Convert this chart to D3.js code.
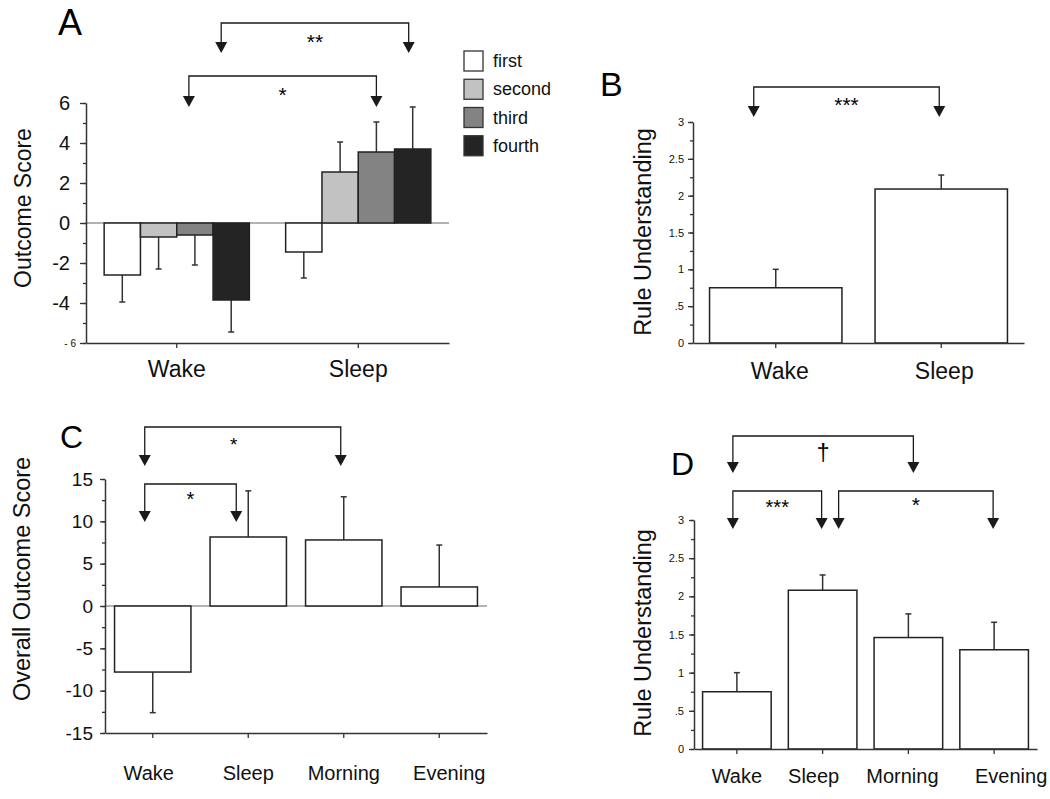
<!DOCTYPE html>
<html>
<head>
<meta charset="utf-8">
<script src="https://cdn.jsdelivr.net/npm/d3@7"></script>
<style>
  body { margin: 0; background: #fff; }
  svg { display: block; }
</style>
</head>
<body>
<svg id="chart" width="1050" height="799"></svg>
<script>
// ---- data ----
// panel A: outcome score per session, grouped by condition
var groupsA = ["Wake", "Sleep"];
var seriesA = ["first", "second", "third", "fourth"];
var meansA = [[-2.6, -0.7, -0.6, -3.85], [-1.45, 2.55, 3.55, 3.7]];
var errA = [[1.35, 1.6, 1.5, 1.6], [1.3, 1.5, 1.5, 2.1]];
var ticksA = [-6, -4, -2, 0, 2, 4, 6];

// panel B: rule understanding
var condB = ["Wake", "Sleep"];
var meansB = [0.75, 2.09];
var errB = [0.25, 0.19];
var ticksB = [0, 0.5, 1, 1.5, 2, 2.5, 3];

// panel C: overall outcome score
var condC = ["Wake", "Sleep", "Morning", "Evening"];
var meansC = [-7.8, 8.15, 7.8, 2.25];
var errC = [4.8, 5.45, 5.1, 4.95];
var ticksC = [-15, -10, -5, 0, 5, 10, 15];

// panel D: rule understanding
var condD = ["Wake", "Sleep", "Morning", "Evening"];
var meansD = [0.75, 2.08, 1.46, 1.3];
var errD = [0.25, 0.2, 0.31, 0.36];
var ticksD = [0, 0.5, 1, 1.5, 2, 2.5, 3];

var FONT = '"Liberation Sans", Arial, Helvetica, sans-serif';
var INK = "#1a1a1a";
var svg = d3.select("#chart");

var fillA = d3.scaleOrdinal().domain(seriesA).range(["#ffffff", "#c2c2c2", "#838383", "#242424"]);

// ---- helpers ----
function styleAxis(g, fontSize) {
  g.attr("font-family", FONT).attr("font-size", fontSize);
  g.selectAll("path.domain").attr("stroke", "#333").attr("stroke-width", 1.5);
  g.selectAll(".tick line").attr("stroke", "#333").attr("stroke-width", 1.3);
  g.selectAll(".tick text").attr("fill", "#111");
}

function leftAxis(y, x0, major, step, fmt, o) {
  var minor = d3.range(major[0], major[major.length - 1] + step / 2, step);
  var gm = svg.append("g").attr("transform", "translate(" + x0 + ",0)")
    .call(d3.axisLeft(y).tickValues(minor).tickSize(o.minor).tickFormat(""));
  gm.select(".domain").remove();
  styleAxis(gm, o.font);
  var g = svg.append("g").attr("transform", "translate(" + x0 + ",0)")
    .call(d3.axisLeft(y).tickValues(major).tickSize(o.major).tickSizeOuter(0)
      .tickPadding(o.pad).tickFormat(fmt));
  styleAxis(g, o.font);
  return g;
}

function bottomAxis(x, y0, pad, fontSize, shifts) {
  var g = svg.append("g").attr("transform", "translate(0," + y0 + ")")
    .call(d3.axisBottom(x).tickSize(5).tickSizeOuter(0).tickPadding(pad));
  styleAxis(g, fontSize);
  if (shifts) g.selectAll(".tick text").attr("dx", function(d, i) { return shifts[i]; });
  return g;
}

function zeroLine(x, y) {
  svg.append("line")
    .attr("x1", x.range()[0]).attr("x2", x.range()[1])
    .attr("y1", y(0)).attr("y2", y(0))
    .attr("stroke", "#9a9a9a").attr("stroke-width", 1.5);
}

// rows: {x, w, v, e, fill}
function bars(rows, y) {
  var g = svg.append("g");
  g.selectAll("line.err").data(rows).enter().append("line")
    .attr("x1", function(d) { return d.x + d.w / 2; })
    .attr("x2", function(d) { return d.x + d.w / 2; })
    .attr("y1", function(d) { return y(d.v); })
    .attr("y2", function(d) { return y(d.v + (d.v < 0 ? -d.e : d.e)); })
    .attr("stroke", "#333").attr("stroke-width", 1.5);
  g.selectAll("line.cap").data(rows).enter().append("line")
    .attr("x1", function(d) { return d.x + d.w / 2 - 3; })
    .attr("x2", function(d) { return d.x + d.w / 2 + 3; })
    .attr("y1", function(d) { return y(d.v + (d.v < 0 ? -d.e : d.e)); })
    .attr("y2", function(d) { return y(d.v + (d.v < 0 ? -d.e : d.e)); })
    .attr("stroke", "#333").attr("stroke-width", 1.5);
  g.selectAll("rect").data(rows).enter().append("rect")
    .attr("x", function(d) { return d.x; })
    .attr("width", function(d) { return d.w; })
    .attr("y", function(d) { return Math.min(y(d.v), y(0)); })
    .attr("height", function(d) { return Math.abs(y(d.v) - y(0)); })
    .attr("fill", function(d) { return d.fill; })
    .attr("stroke", "#222").attr("stroke-width", 1.5);
}

function arrow(g, x, tip) {
  g.append("path")
    .attr("d", "M" + (x - 6) + "," + (tip - 11) + "L" + (x + 6) + "," + (tip - 11) + "L" + x + "," + tip + "Z")
    .attr("fill", INK);
}

function bracket(x1, x2, yLine, tip, label, labelY, fontSize, labelDx) {
  var g = svg.append("g");
  g.append("path")
    .attr("d", "M" + x1 + "," + (tip - 10) + "V" + yLine + "H" + x2 + "V" + (tip - 10))
    .attr("fill", "none").attr("stroke", INK).attr("stroke-width", 1.3);
  arrow(g, x1, tip);
  arrow(g, x2, tip);
  g.append("text")
    .attr("x", (x1 + x2) / 2 + (labelDx || 0)).attr("y", labelY)
    .attr("text-anchor", "middle")
    .attr("font-family", FONT).attr("font-size", fontSize).attr("fill", "#000")
    .text(label);
}

function yLabel(text, x, yc, size) {
  svg.append("text")
    .attr("transform", "translate(" + x + "," + yc + ") rotate(-90)")
    .attr("text-anchor", "middle")
    .attr("font-family", FONT).attr("font-size", size).attr("fill", "#111")
    .text(text);
}

function panelLetter(t, x, y, size) {
  svg.append("text").attr("x", x).attr("y", y)
    .attr("font-family", FONT).attr("font-size", size).attr("fill", "#000")
    .text(t);
}

function fmtSmall(d) { return String(d).replace(/^0\./, "."); }

// ---- panel A ----
var yA = d3.scaleLinear().domain([-6, 6]).range([343, 103]);
var xA0 = d3.scaleBand().domain(groupsA).range([86, 449]).paddingInner(0.2).paddingOuter(0.1);
var xA1 = d3.scaleBand().domain(seriesA).range([0, xA0.bandwidth()]);

zeroLine(xA0, yA);
var rowsA = [];
groupsA.forEach(function(g, gi) {
  seriesA.forEach(function(s, si) {
    rowsA.push({ x: xA0(g) + xA1(s), w: xA1.bandwidth(), v: meansA[gi][si], e: errA[gi][si], fill: fillA(s) });
  });
});
bars(rowsA, yA);

var axA = leftAxis(yA, 86, ticksA, 1, function(d) { return d === -6 ? "- 6" : String(d); },
  { major: 6, minor: 3, pad: 10, font: 20 });
axA.selectAll(".tick").filter(function(d) { return d === -6; })
  .select("text").attr("font-size", 10).attr("x", -10);
bottomAxis(xA0, 343, 13, 23);
yLabel("Outcome Score", 31, 208, 23);
panelLetter("A", 58, 35, 36);

function barCenterA(g, s) { return xA0(g) + xA1(s) + xA1.bandwidth() / 2; }
bracket(barCenterA("Wake", "fourth") - 10, barCenterA("Sleep", "fourth") - 4, 23, 53, "**", 49, 21);
bracket(barCenterA("Wake", "third") - 6, barCenterA("Sleep", "third"), 76, 107, "*", 102, 21);

// legend
var legY = d3.scaleBand().domain(seriesA).range([51, 164]);
var leg = svg.append("g");
leg.selectAll("rect").data(seriesA).enter().append("rect")
  .attr("x", 464).attr("y", function(d) { return legY(d); })
  .attr("width", 19).attr("height", 20)
  .attr("fill", function(d) { return fillA(d); })
  .attr("stroke", "#333").attr("stroke-width", 1.3);
leg.selectAll("text").data(seriesA).enter().append("text")
  .attr("x", 493).attr("y", function(d) { return legY(d) + 16; })
  .attr("font-family", FONT).attr("font-size", 18).attr("fill", "#111")
  .text(function(d) { return d; });

// ---- panel B ----
var yB = d3.scaleLinear().domain([0, 3]).range([343, 122]);
var xB = d3.scaleBand().domain(condB).range([693, 1024]).paddingInner(0.2).paddingOuter(0.1);
bars(condB.map(function(c, i) {
  return { x: xB(c), w: xB.bandwidth(), v: meansB[i], e: errB[i], fill: "#fff" };
}), yB);
leftAxis(yB, 693, ticksB, 0.25, fmtSmall, { major: 5, minor: 3, pad: 4, font: 11 });
bottomAxis(xB, 343, 15, 23, [4, 3]);
yLabel("Rule Understanding", 651, 232, 23.5);
panelLetter("B", 600, 96, 34);
function centerB(c) { return xB(c) + xB.bandwidth() / 2; }
bracket(centerB("Wake") - 22, centerB("Sleep") - 2, 87, 117, "***", 112, 21);

// ---- panel C ----
var yC = d3.scaleLinear().domain([-15, 15]).range([733, 479]);
var xC = d3.scaleBand().domain(condC).range([105, 487]).paddingInner(0.2).paddingOuter(0.1);
zeroLine(xC, yC);
bars(condC.map(function(c, i) {
  return { x: xC(c), w: xC.bandwidth(), v: meansC[i], e: errC[i], fill: "#fff" };
}), yC);
leftAxis(yC, 105, ticksC, 2.5, String, { major: 5, minor: 3, pad: 7, font: 19 });
bottomAxis(xC, 733, 28, 20, [-4, 0, 0, 10]);
yLabel("Overall Outcome Score", 30, 579, 23.5);
panelLetter("C", 60, 448, 32);
function centerC(c) { return xC(c) + xC.bandwidth() / 2; }
bracket(centerC("Wake") - 8, centerC("Morning") - 3, 427, 466, "*", 451, 19, -9);
bracket(centerC("Wake") - 8, centerC("Sleep") - 12, 484, 522, "*", 506, 20);

// ---- panel D ----
var yD = d3.scaleLinear().domain([0, 3]).range([749, 520]);
var xD = d3.scaleBand().domain(condD).range([694, 1037]).paddingInner(0.2).paddingOuter(0.1);
bars(condD.map(function(c, i) {
  return { x: xD(c), w: xD.bandwidth(), v: meansD[i], e: errD[i], fill: "#fff" };
}), yD);
leftAxis(yD, 694, ticksD, 0.25, fmtSmall, { major: 5, minor: 3, pad: 5, font: 11 });
bottomAxis(xD, 749, 15, 20, [0, -9, -6, 17]);
yLabel("Rule Understanding", 651, 633, 23.5);
panelLetter("D", 671, 475, 32);
function centerD(c) { return xD(c) + xD.bandwidth() / 2; }
bracket(centerD("Wake") - 4, centerD("Morning") + 5, 436, 473, "\u2020", 461, 23);
bracket(centerD("Wake") - 4, centerD("Sleep") - 1, 491, 529, "***", 514, 20);
bracket(centerD("Sleep") + 16, centerD("Evening") - 1, 491, 529, "*", 512, 21);
</script>
</body>
</html>
